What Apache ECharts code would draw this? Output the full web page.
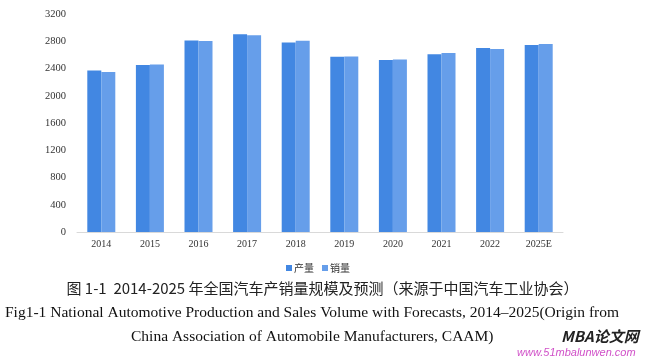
<!DOCTYPE html>
<html><head><meta charset="utf-8">
<script src="https://cdn.jsdelivr.net/npm/echarts@6/dist/echarts.min.js"></script>
<style>html,body{margin:0;padding:0;background:#fff}#c{width:645px;height:359px}</style>
</head><body><div id="c"></div>
<script>
const categories = ['2014','2015','2016','2017','2018','2019','2020','2021','2022','2025E'];
const production = [2372,2450,2812,2902,2781,2572,2523,2608,2702,2745];
const sales = [2349,2460,2803,2888,2808,2577,2531,2628,2686,2760];
const seriesNames = ['产量','销量'];
const captionCn = '图 1-1  2014-2025 年全国汽车产销量规模及预测（来源于中国汽车工业协会）';
const captionEn1 = 'Fig1-1 National Automotive Production and Sales Volume with Forecasts, 2014–2025(Origin from';
const captionEn2 = 'China Association of Automobile Manufacturers, CAAM)';

const chart = echarts.init(document.getElementById('c'), null, {renderer:'canvas'});
const serif = '"Liberation Serif", "Times New Roman", serif';
chart.setOption({
  animation:false,
  grid:{left:77, right:82, top:14, bottom:127},
  legend:{data:seriesNames, left:281, top:258, itemWidth:6, itemHeight:6, itemGap:8,
    icon:'rect', textStyle:{fontSize:10, color:'#333', fontFamily:'"Noto Sans CJK SC"', padding:[0,0,0,-3]}},
  xAxis:{type:'category', data:categories,
    axisLine:{lineStyle:{color:'#d9d9d9'}}, axisTick:{show:false},
    axisLabel:{fontFamily:serif, fontSize:10, color:'#333', margin:7}},
  yAxis:{type:'value', min:0, max:3200, interval:400,
    axisLine:{show:false}, axisTick:{show:false}, splitLine:{show:false},
    axisLabel:{fontFamily:serif, fontSize:10.5, color:'#333', margin:11, formatter:v=>String(v)}},
  series:[
    {name:seriesNames[0], type:'bar', data:production, barWidth:14, barGap:'0%', itemStyle:{color:'#4287e2'}},
    {name:seriesNames[1], type:'bar', data:sales, barWidth:14, itemStyle:{color:'#669eea'}}
  ],
  graphic:[
    {type:'text', left:'center', top:281, style:{text:captionCn, font:'15px "Noto Sans CJK SC"', fill:'#222'}},
    {type:'text', left:5, top:305, style:{text:captionEn1, font:'15.5px '+serif, fill:'#111'}},
    {type:'text', left:131, top:329, style:{text:captionEn2, font:'15.5px '+serif, fill:'#111'}},
    {type:'text', left:561, top:329, style:{text:'MBA论文网', font:'italic bold 15px "Noto Sans CJK SC"', fill:'#222'}},
    {type:'text', left:517, top:347, style:{text:'www.51mbalunwen.com', font:'italic 11px "Liberation Sans"', fill:'#d050c8'}}
  ]
});
</script></body></html>
